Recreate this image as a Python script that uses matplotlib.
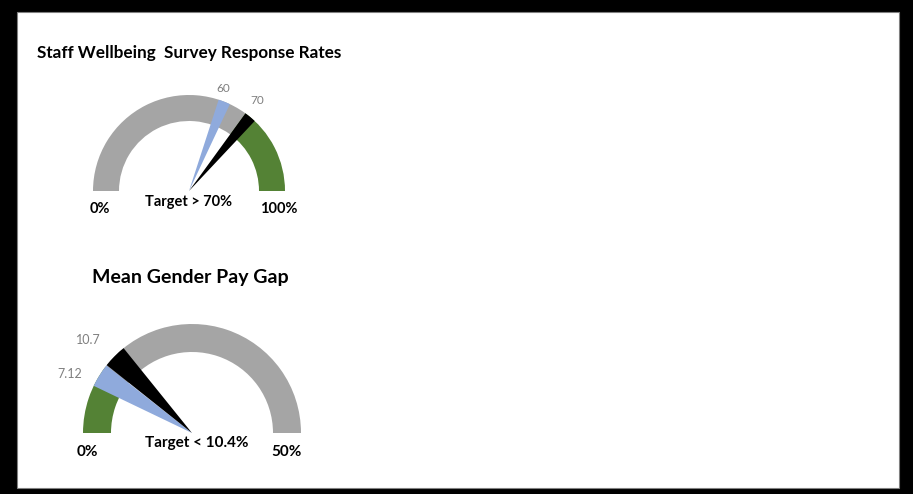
import matplotlib
matplotlib.use("Agg")
import matplotlib.pyplot as plt
from matplotlib.patches import Rectangle

plt.rcParams['font.family'] = ['Lato', 'DejaVu Sans']

W, H = 913, 494

# gauge 1: staff wellbeing survey response rates (0-100 scale)
survey_max = 100
survey_target = 70
survey_values = [60, 70]
survey_labels = ['60', '70']

# gauge 2: mean gender pay gap (0-50 scale)
paygap_max = 50
paygap_target = 10.4
paygap_values = [7.12, 10.7]
paygap_labels = ['7.12', '10.7']

GRAY = '#a5a5a5'
GREEN = '#548235'
BLUE = '#8faadc'
LABEL_GRAY = '#7f7f7f'


def draw_gauge(ax, cx, cy, radius, ring_w, maxv, target, values, needle_w, good_low):
    # ring: top half split at the target, bottom half hidden
    if good_low:
        ring_colors = [GREEN, GRAY, 'none']
    else:
        ring_colors = [GRAY, GREEN, 'none']
    ax.pie([target, maxv - target, maxv], colors=ring_colors, startangle=180,
           counterclock=False, radius=radius, center=(cx, H - cy), frame=True,
           wedgeprops=dict(width=ring_w, linewidth=0))

    # needles: thin pie slices starting at each value
    sizes = [values[0], needle_w, values[1] - values[0] - needle_w, needle_w,
             maxv - values[1] - needle_w, maxv]
    colors = ['none', BLUE, 'none', 'black', 'none', 'none']
    ax.pie(sizes, colors=colors, startangle=180, counterclock=False,
           radius=radius, center=(cx, H - cy), frame=True,
           wedgeprops=dict(linewidth=0))


fig = plt.figure(figsize=(W / 100, H / 100), dpi=100, facecolor='black')
ax = fig.add_axes([0, 0, 1, 1])

ax.add_patch(Rectangle((17, H - 488), 882, 476, facecolor='white',
                       edgecolor='#808080', linewidth=0.8, zorder=0))

draw_gauge(ax, 189, 191, 96, 26, survey_max, survey_target, survey_values, 4, False)
draw_gauge(ax, 192, 433, 109, 28, paygap_max, paygap_target, paygap_values, 3.5, True)

ax.set_xlim(0, W)
ax.set_ylim(0, H)
ax.set_aspect('auto')
ax.axis('off')


def txt(x, y, s, size, weight='bold', color='black', ha='center'):
    ax.text(x, H - y, s, fontsize=size, fontweight=weight, color=color,
            ha=ha, va='center')


# gauge 1 text
txt(37, 53, 'Staff Wellbeing  Survey Response Rates', 12.3, ha='left')
txt(223, 89, survey_labels[0], 8.5, weight='normal', color=LABEL_GRAY)
txt(257, 101, survey_labels[1], 8.5, weight='normal', color=LABEL_GRAY)
txt(100, 209, '0%', 10.5)
txt(189, 202, 'Target > 70%', 10.5)
txt(279, 209, '100%', 10.5)

# gauge 2 text
txt(190, 277, 'Mean Gender Pay Gap', 14)
txt(70, 374, paygap_labels[0], 9, weight='normal', color=LABEL_GRAY)
txt(88, 340, paygap_labels[1], 9, weight='normal', color=LABEL_GRAY)
txt(87, 452, '0%', 11)
txt(197, 443, 'Target < 10.4%', 11)
txt(287, 452, '50%', 11)

fig.savefig('out.png', dpi=100, facecolor='black')
